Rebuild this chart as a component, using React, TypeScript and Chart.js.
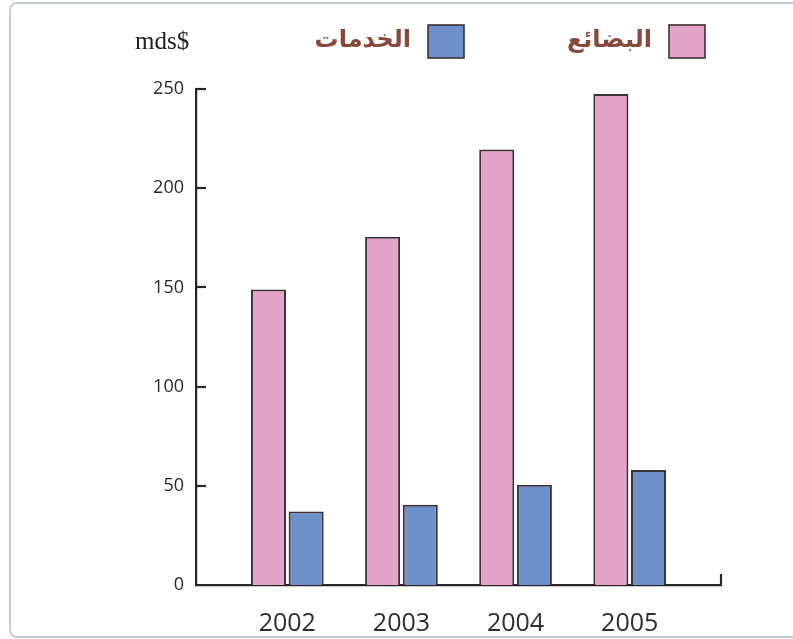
import { useEffect, useRef } from "react";
import { Chart, registerables } from "chart.js";

Chart.register(...registerables);

const years = [2002, 2003, 2004, 2005];
const goods = [149, 175.5, 219.5, 247.5];
const services = [37, 40.5, 50.5, 58];
const yTicks = [0, 50, 100, 150, 200, 250];
const seriesNames = ["البضائع", "الخدمات"];
const unitLabel = "mds$";

const AXIS = "#2a2628";

export default function App() {
  const ref = useRef<HTMLCanvasElement>(null);

  useEffect(() => {
    document.body.style.margin = "0";
    const deco = {
      id: "deco",
      beforeDraw(chart: any) {
        const ctx = chart.ctx;
        ctx.save();
        ctx.strokeStyle = "#aebac8";
        ctx.lineWidth = 1.5;
        ctx.beginPath();
        (ctx as any).roundRect(10, 3, 800, 634, 7);
        ctx.stroke();
        ctx.restore();
      },
      afterDraw(chart: any) {
        const ctx = chart.ctx;
        const ca = chart.chartArea;
        const y = chart.scales.y;
        ctx.save();
        ctx.strokeStyle = AXIS;
        ctx.lineWidth = 2.2;
        ctx.lineCap = "butt";
        // inward tick marks on the value axis
        yTicks.forEach((v) => {
          if (v === 0) return;
          const py = Math.round(y.getPixelForValue(v));
          ctx.beginPath();
          ctx.moveTo(ca.left - 1, py);
          ctx.lineTo(ca.left + 10, py);
          ctx.stroke();
        });
        // small upward tick at the end of the category axis
        ctx.beginPath();
        ctx.moveTo(ca.right, ca.bottom + 1);
        ctx.lineTo(ca.right, ca.bottom - 11);
        ctx.stroke();

        // legend (right to left)
        const boxRight = [705, 464];
        const boxW = 36;
        const boxH = 33;
        const boxTop = 25;
        chart.data.datasets.forEach((ds: any, i: number) => {
          const bx = boxRight[i] - boxW;
          ctx.fillStyle = ds.backgroundColor;
          ctx.fillRect(bx, boxTop, boxW, boxH);
          ctx.strokeStyle = "#3a3036";
          ctx.lineWidth = 1.6;
          ctx.strokeRect(bx, boxTop, boxW, boxH);
          ctx.font = "bold 24px 'DejaVu Sans'";
          ctx.fillStyle = "#86493a";
          ctx.textAlign = "right";
          ctx.textBaseline = "middle";
          (ctx as any).direction = "rtl";
          ctx.fillText(ds.label, bx - 17, boxTop + boxH / 2 - 1);
        });
        (ctx as any).direction = "ltr";
        ctx.font = "25px 'Liberation Serif'";
        ctx.fillStyle = "#222";
        ctx.textAlign = "left";
        ctx.textBaseline = "middle";
        ctx.fillText(unitLabel, 135, 42);
        ctx.restore();
      },
    };

    const chart = new Chart(ref.current as HTMLCanvasElement, {
      type: "bar",
      data: {
        datasets: [
          {
            label: seriesNames[0],
            data: years.map((x, i) => ({ x, y: goods[i] })),
            backgroundColor: "#e4a4ca",
            borderColor: "#3a3036",
            borderWidth: 2,
          },
          {
            label: seriesNames[1],
            data: years.map((x, i) => ({ x, y: services[i] })),
            backgroundColor: "#6d8fca",
            borderColor: "#3a3036",
            borderWidth: 2,
          },
        ],
      } as any,
      options: {
        responsive: false,
        animation: false,
        layout: { padding: { left: 0, right: 72, top: 89, bottom: 0 } },
        datasets: { bar: { categoryPercentage: 0.66, barPercentage: 0.93 } },
        plugins: {
          legend: { display: false },
          tooltip: { enabled: false },
        },
        scales: {
          x: {
            type: "linear",
            min: 2001.2,
            max: 2005.8,
            offset: false,
            z: 1,
            afterBuildTicks: (s: any) => {
              s.ticks = years.map((v) => ({ value: v }));
            },
            afterFit: (s: any) => {
              s.height = 54;
              s.paddingLeft = 0;
              s.paddingRight = 0;
            },
            grid: { display: false, drawTicks: false },
            border: { display: true, color: AXIS, width: 2.2 },
            ticks: {
              callback: (v: any) => String(v),
              font: { family: "'Open Sans'", size: 25 },
              color: "#2e2e2e",
              padding: 24,
              maxRotation: 0,
              autoSkip: false,
            },
          },
          y: {
            min: 0,
            max: 250,
            z: 1,
            afterBuildTicks: (s: any) => {
              s.ticks = yTicks.map((v) => ({ value: v }));
            },
            afterFit: (s: any) => {
              s.width = 196;
              s.paddingTop = 0;
              s.paddingBottom = 0;
            },
            grid: { display: false, drawTicks: false },
            border: { display: true, color: AXIS, width: 2.2 },
            ticks: {
              font: { family: "'Open Sans'", size: 18 },
              color: "#2a2a2a",
              padding: 12,
            },
          },
        },
      } as any,
      plugins: [deco],
    });
    return () => chart.destroy();
  }, []);

  return (
    <div style={{ position: "absolute", left: 0, top: 0, width: 793, height: 639, background: "#fff" }}>
      <canvas ref={ref} width={793} height={639} style={{ display: "block", width: 793, height: 639 }} />
    </div>
  );
}
